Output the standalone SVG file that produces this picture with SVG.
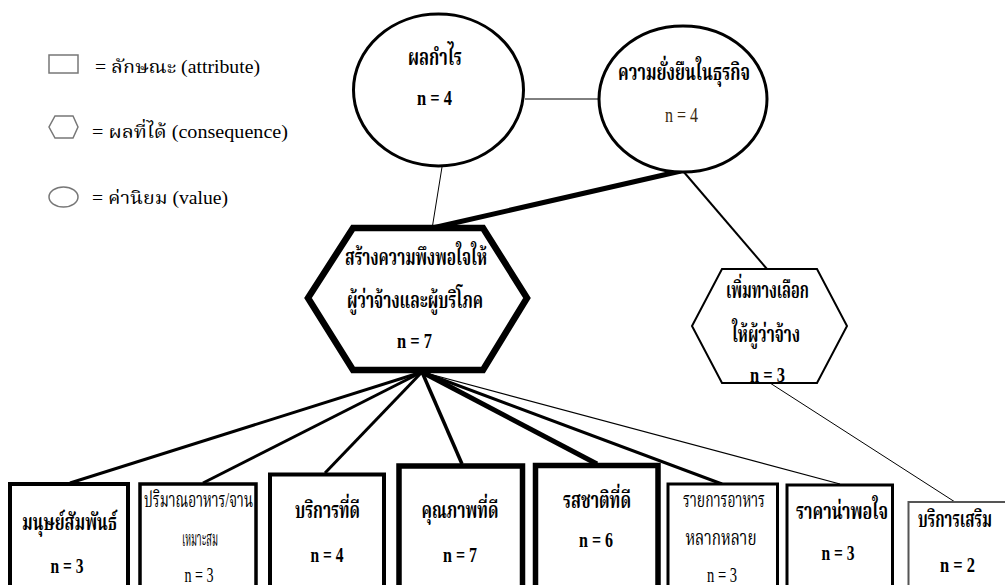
<svg xmlns="http://www.w3.org/2000/svg" width="1005" height="585" viewBox="0 0 1005 585">
<style>
.t{font-family:"Liberation Serif","Noto Serif Thai","Noto Sans Thai","DejaVu Serif",serif;text-anchor:middle;fill:#000}
.b{font-weight:bold}
.th{font-size:23px}
.tr{font-size:21px}
.n{font-size:21px}
.lg{font-family:"Liberation Serif","Noto Serif Thai","Noto Sans Thai","DejaVu Serif",serif;font-size:18px;fill:#000}
.shape{fill:#fff;stroke:#000}
.ln{stroke:#000;fill:none}
</style>
<rect width="1005" height="585" fill="#fff"/>
<g id="legend">
<rect x="49" y="55" width="29" height="18" fill="none" stroke="#777" stroke-width="1.5"/>
<text class="lg" x="95" y="73" textLength="165" lengthAdjust="spacingAndGlyphs">= ลักษณะ (attribute)</text>
<polygon points="55,116 73,116 78,127 73,138 55,138 49,127" fill="none" stroke="#777" stroke-width="1.5"/>
<text class="lg" x="92" y="138" textLength="196" lengthAdjust="spacingAndGlyphs">= ผลที่ได้ (consequence)</text>
<ellipse cx="63.5" cy="197" rx="14.5" ry="10" fill="none" stroke="#777" stroke-width="1.5"/>
<text class="lg" x="92" y="204" textLength="136" lengthAdjust="spacingAndGlyphs">= ค่านิยม (value)</text>
</g>
<g id="connectors">
<line class="ln" x1="525" y1="99" x2="598" y2="99" stroke-width="1"/>
<line class="ln" x1="442" y1="167" x2="432" y2="229" stroke-width="1"/>
<line class="ln" x1="681" y1="171" x2="428" y2="229" stroke-width="5"/>
<line class="ln" x1="683" y1="171" x2="767" y2="269" stroke-width="2"/>
<line class="ln" x1="770" y1="383" x2="955" y2="502" stroke-width="1"/>
<line class="ln" x1="422" y1="372" x2="70" y2="483" stroke-width="3"/>
<line class="ln" x1="422" y1="372" x2="203" y2="483" stroke-width="3"/>
<line class="ln" x1="422" y1="372" x2="325" y2="473" stroke-width="3"/>
<line class="ln" x1="422" y1="372" x2="462" y2="464" stroke-width="3.5"/>
<line class="ln" x1="422" y1="372" x2="597" y2="464" stroke-width="5"/>
<line class="ln" x1="422" y1="372" x2="722" y2="484" stroke-width="3"/>
<line class="ln" x1="422" y1="372" x2="840" y2="484" stroke-width="1.2"/>
</g>
<g id="v1">
<ellipse class="shape" cx="438.5" cy="90" rx="85" ry="76" stroke-width="3"/>
<text class="t b th" x="435" y="65" textLength="54" lengthAdjust="spacingAndGlyphs">ผลกำไร</text>
<text class="t b n" x="434.5" y="105" textLength="35" lengthAdjust="spacingAndGlyphs">n = 4</text>
</g>
<g id="v2">
<ellipse class="shape" cx="683" cy="99" rx="84" ry="73" stroke-width="3"/>
<text class="t b th" x="684" y="80" textLength="132" lengthAdjust="spacingAndGlyphs">ความยั่งยืนในธุรกิจ</text>
<text class="t n" x="681.5" y="122" style="fill:#3a2a10" textLength="33" lengthAdjust="spacingAndGlyphs">n = 4</text>
</g>
<g id="c1">
<polygon class="shape" points="353,228 483,228 527,298 483,370 353,370 308,298" stroke-width="6.5"/>
<text class="t b th" x="416" y="265" textLength="142" lengthAdjust="spacingAndGlyphs">สร้างความพึงพอใจให้</text>
<text class="t b th" x="415" y="308" textLength="136" lengthAdjust="spacingAndGlyphs">ผู้ว่าจ้างและผู้บริโภค</text>
<text class="t b n" x="414.5" y="348" textLength="35" lengthAdjust="spacingAndGlyphs">n = 7</text>
</g>
<g id="c2">
<polygon class="shape" points="722,269 817,269 847,326 817,383 722,383 692,326" stroke-width="2"/>
<text class="t b th" x="767.5" y="298" textLength="83" lengthAdjust="spacingAndGlyphs">เพิ่มทางเลือก</text>
<text class="t b th" x="766" y="342" textLength="68" lengthAdjust="spacingAndGlyphs">ให้ผู้ว่าจ้าง</text>
<text class="t b n" x="767.5" y="382" textLength="35" lengthAdjust="spacingAndGlyphs">n = 3</text>
</g>
<g id="a1">
<rect class="shape" x="10" y="484" width="118" height="110" stroke-width="4"/>
<text class="t b th" x="69.5" y="530" textLength="95" lengthAdjust="spacingAndGlyphs">มนุษย์สัมพันธ์</text>
<text class="t b n" x="67" y="573" textLength="33" lengthAdjust="spacingAndGlyphs">n = 3</text>
</g>
<g id="a2">
<rect class="shape" x="140" y="484" width="116" height="110" stroke-width="3.5"/>
<text class="t tr" x="198.5" y="507" textLength="109" lengthAdjust="spacingAndGlyphs">ปริมาณอาหาร/จาน</text>
<text class="t tr" x="200" y="546" textLength="36" lengthAdjust="spacingAndGlyphs">เหมาะสม</text>
<text class="t n" x="199" y="582" textLength="29" lengthAdjust="spacingAndGlyphs">n = 3</text>
</g>
<g id="a3">
<rect class="shape" x="270" y="474.5" width="114" height="120" stroke-width="4"/>
<text class="t b th" x="327.5" y="518" textLength="65" lengthAdjust="spacingAndGlyphs">บริการที่ดี</text>
<text class="t b n" x="327" y="562" textLength="33" lengthAdjust="spacingAndGlyphs">n = 4</text>
</g>
<g id="a4">
<rect class="shape" x="399" y="466" width="123.5" height="130" stroke-width="5.5"/>
<text class="t b th" x="460" y="518" textLength="77" lengthAdjust="spacingAndGlyphs">คุณภาพที่ดี</text>
<text class="t b n" x="460" y="562" textLength="34" lengthAdjust="spacingAndGlyphs">n = 7</text>
</g>
<g id="a5">
<rect class="shape" x="535.5" y="465.5" width="122.5" height="130" stroke-width="5.5"/>
<text class="t b th" x="597" y="508" textLength="68" lengthAdjust="spacingAndGlyphs">รสชาติที่ดี</text>
<text class="t b n" x="596" y="547" textLength="34" lengthAdjust="spacingAndGlyphs">n = 6</text>
</g>
<g id="a6">
<rect class="shape" x="668" y="484" width="109.5" height="110" stroke-width="3"/>
<text class="t tr" x="724" y="507" textLength="82" lengthAdjust="spacingAndGlyphs">รายการอาหาร</text>
<text class="t tr" x="721" y="545" textLength="71" lengthAdjust="spacingAndGlyphs">หลากหลาย</text>
<text class="t n" x="722" y="582" textLength="30" lengthAdjust="spacingAndGlyphs">n = 3</text>
</g>
<g id="a7">
<rect class="shape" x="787" y="485" width="105.5" height="110" stroke-width="3"/>
<text class="t b th" x="842" y="519" textLength="92" lengthAdjust="spacingAndGlyphs">ราคาน่าพอใจ</text>
<text class="t b n" x="838" y="560" textLength="33" lengthAdjust="spacingAndGlyphs">n = 3</text>
</g>
<g id="a8">
<path d="M1005,502 H908.5 V590" fill="#fff" stroke="#555" stroke-width="2"/>
<text class="t b th" transform="translate(955,527) scale(0.72,1)" x="0" y="0" textLength="103" lengthAdjust="spacingAndGlyphs">บริการเสริม</text>
<text class="t b n" x="957.5" y="572" textLength="35" lengthAdjust="spacingAndGlyphs">n = 2</text>
</g>
</svg>
